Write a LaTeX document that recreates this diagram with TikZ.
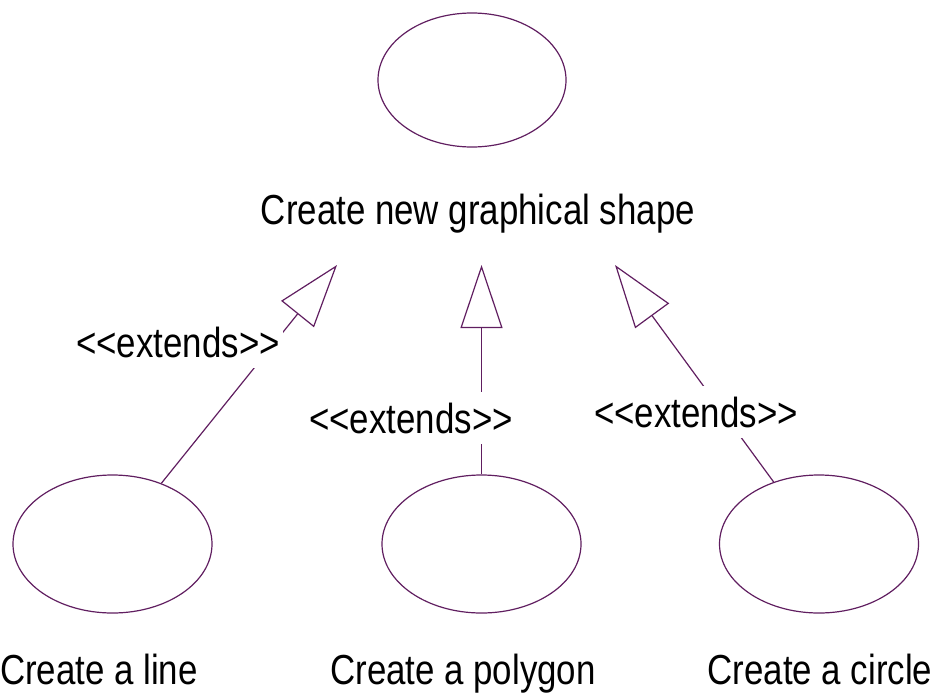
\documentclass[tikz,border=0pt]{standalone}
\usepackage{fontspec}
\setmainfont{Liberation Sans}
\usepackage{graphicx}
\usetikzlibrary{arrows.meta,shapes.geometric}
\definecolor{umlline}{RGB}{96,30,96}
\newcommand{\narrow}[1]{\scalebox{0.83}[1]{#1}}
% guillemet-free stereotype text (kerns keep << and >> from turning into quotes)
\newcommand{\stereotext}{<\kern0pt<extends>\kern0pt>}
\begin{document}
\begin{tikzpicture}[x=1pt,y=-1pt,
  usecase/.style={shape=ellipse,draw=umlline,line width=1.2pt,inner sep=0pt,
    minimum width=199pt,minimum height=138pt},
  caption/.style={font=\fontsize{42}{44}\selectfont,inner sep=0pt,anchor=base},
  stereo/.style={font=\fontsize{42}{44}\selectfont,fill=white,anchor=base,
    inner xsep=3pt,inner ysep=11pt},
  ext/.style={draw=umlline,line width=1.2pt,
    -{Triangle[open,length=63pt,width=42pt]}}]
\useasboundingbox (0,0) rectangle (941,696);

% use cases
\node[usecase,minimum width=188pt,minimum height=134pt] (shape) at (472,80) {};
\node[usecase] (line) at (112.5,544) {};
\node[usecase] (poly) at (481.5,544) {};
\node[usecase] (circ) at (819,544) {};

% tips of the generalisation arrows
\coordinate (tipL) at (337,265);
\coordinate (tipM) at (481.5,265);
\coordinate (tipR) at (615,265);

\draw[ext] (line) -- (tipL);
\draw[ext] (poly) -- (tipM);
\draw[ext] (circ) -- (tipR);

% stereotype labels, drawn over the connectors
\node[stereo] (extL) at (178,357) {\narrow{\stereotext}};
\node[stereo] (extM) at (411,433) {\narrow{\stereotext}};
\node[stereo] (extR) at (696,427) {\narrow{\stereotext}};

% use case names
\node[caption] (nShape) at (478,224) {\narrow{Create new graphical shape}};
\node[caption] (nLine) at (99,684) {\narrow{Create a line}};
\node[caption] (nPoly) at (463,684) {\narrow{Create a polygon}};
\node[caption] (nCirc) at (820,684) {\narrow{Create a circle}};
\end{tikzpicture}
\end{document}
